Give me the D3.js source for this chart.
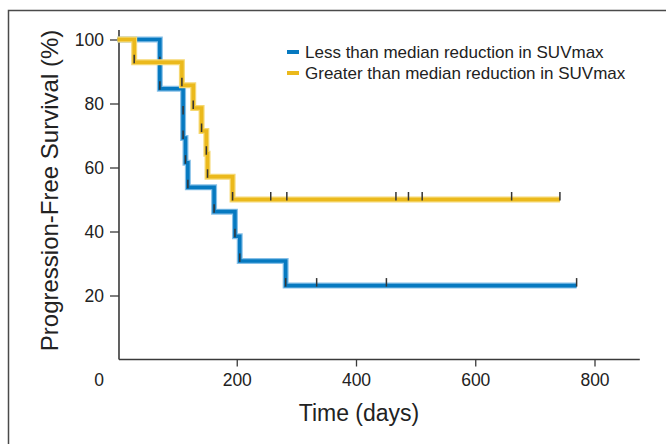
<!DOCTYPE html>
<html>
<head>
<meta charset="utf-8">
<script src="https://cdn.jsdelivr.net/npm/d3@7"></script>
<style>
  html, body { margin: 0; padding: 0; background: #fff; }
  svg { display: block; font-family: "Liberation Sans", Arial, sans-serif; }
</style>
</head>
<body>
<svg id="chart" width="666" height="444"></svg>
<script>
// ---- Data ----
const seriesNames = ["Less than median reduction in SUVmax", "Greater than median reduction in SUVmax"];

// Blue: less than median reduction (step times in days, survival % after step)
const lessTimes = [0, 71, 71, 110, 110, 114, 118, 162, 197, 205, 282];
const lessSurv  = [100, 92.3, 84.6, 76.9, 69.2, 61.5, 53.8, 46.2, 38.5, 30.8, 23.1];
const lessCensorTimes = [334, 451, 770];
const lessEnd = 770;

// Yellow: greater than median reduction
const greaterTimes = [0, 28, 108, 127, 141, 149, 151, 193];
const greaterSurv  = [100, 92.9, 85.7, 78.6, 71.4, 64.3, 57.1, 50.0];
const greaterCensorTimes = [257, 284, 467, 488, 511, 661, 742];
const greaterEnd = 742;

const xTicks = [200, 400, 600, 800];
const yTicks = [20, 40, 60, 80, 100];

// ---- Layout ----
const svg = d3.select("#chart");
const x = d3.scaleLinear().domain([0, 800]).range([117.5, 594.5]);
const y = d3.scaleLinear().domain([0, 100]).range([359.5, 39.5]);

const axisColor = "#3a3a3a";
const colors = {
  less: { core: "#0679c0", halo: "#86c0e8" },
  greater: { core: "#ebb91c", halo: "#f6d872" }
};

// Frame (top & left edges)
svg.append("path")
  .attr("d", "M8.5,444 V10.5 H666")
  .attr("fill", "none").attr("stroke", "#4a4a4a").attr("stroke-width", 1.5);

// Axes
const gx = svg.append("g").attr("transform", `translate(0,${y(0)})`)
  .call(d3.axisBottom(x).tickValues(xTicks).tickSize(7).tickPadding(7).tickFormat(d3.format("d")));
gx.select(".domain").attr("d", `M${x(2.5)},0H${x(876)}`);
const gy = svg.append("g").attr("transform", `translate(${x(2.5)},0)`)
  .call(d3.axisLeft(y).tickValues(yTicks).tickSize(9).tickPadding(6).tickFormat(d3.format("d")));
gy.select(".domain").attr("d", `M0,${y(0)}V${y(103)}`);

[gx, gy].forEach(g => {
  g.selectAll(".domain").attr("stroke", axisColor).attr("stroke-width", 1.6);
  g.selectAll(".tick line").attr("stroke", axisColor).attr("stroke-width", 1.3);
  g.selectAll(".tick text").attr("fill", "#222").style("font-size", "17.5px")
    .style("font-family", "'Liberation Sans', Arial, sans-serif");
});

// Origin "0" label
svg.append("text").attr("x", 99).attr("y", 386).attr("text-anchor", "middle")
  .attr("fill", "#222").style("font-size", "17.5px").text("0");

// Axis titles
svg.append("text")
  .attr("transform", `translate(58,${(28 + 353) / 2}) rotate(-90)`)
  .attr("text-anchor", "middle").attr("fill", "#222").style("font-size", "24px")
  .text("Progression-Free Survival (%)");
svg.append("text").attr("x", 359).attr("y", 421).attr("text-anchor", "middle")
  .attr("fill", "#222").style("font-size", "23px").text("Time (days)");

// ---- Curves ----
function drawCurve(times, surv, end, censors, col) {
  const pts = times.map((t, i) => [t, surv[i]]);
  pts.push([end, surv[surv.length - 1]]);
  const line = d3.line().x(d => x(d[0])).y(d => y(d[1])).curve(d3.curveStepAfter);
  svg.append("path").datum(pts).attr("d", line)
    .attr("fill", "none").attr("stroke", col.halo).attr("stroke-width", 6);
  svg.append("path").datum(pts).attr("d", line)
    .attr("fill", "none").attr("stroke", col.core).attr("stroke-width", 3.6);
  // event marks (at each drop) and censor marks
  const marks = [];
  times.forEach((t, i) => { if (i > 0) marks.push([t, surv[i]]); });
  censors.forEach(t => marks.push([t, surv[surv.length - 1]]));
  svg.append("g").selectAll("line").data(marks).join("line")
    .attr("x1", d => x(d[0])).attr("x2", d => x(d[0]))
    .attr("y1", d => y(d[1]) - 7.5).attr("y2", d => y(d[1]) + 1)
    .attr("stroke", "#333").attr("stroke-width", 1.5);
}
drawCurve(lessTimes, lessSurv, lessEnd, lessCensorTimes, colors.less);
drawCurve(greaterTimes, greaterSurv, greaterEnd, greaterCensorTimes, colors.greater);

// ---- Legend ----
const legend = svg.append("g");
[colors.less, colors.greater].forEach((c, i) => {
  const ly = 52 + i * 21;
  legend.append("line").attr("x1", 287).attr("x2", 299).attr("y1", ly).attr("y2", ly)
    .attr("stroke", c.core).attr("stroke-width", 4);
  legend.append("text").attr("x", 305).attr("y", ly).attr("dy", "0.35em")
    .attr("fill", "#222").style("font-size", "17px").text(seriesNames[i]);
});
</script>
</body>
</html>
